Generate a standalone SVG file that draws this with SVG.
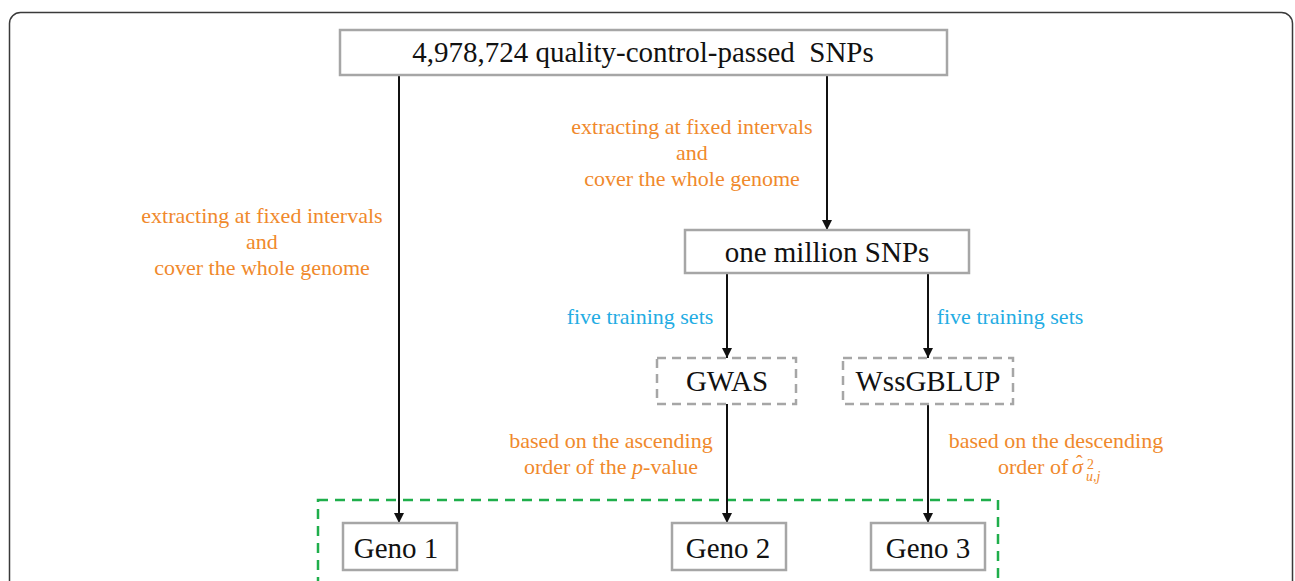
<svg xmlns="http://www.w3.org/2000/svg" width="1295" height="581" viewBox="0 0 1295 581">
  <style>
    .frame { fill: none; stroke: #3a3a3a; stroke-width: 1.5; }
    .box { fill: #ffffff; stroke: #a6a6a6; stroke-width: 2.5; }
    .dbox { fill: #ffffff; stroke: #a6a6a6; stroke-width: 2.5; stroke-dasharray: 9 6; }
    .group { fill: none; stroke: #1fae4b; stroke-width: 2.5; stroke-dasharray: 10 7; }
    .main { font-family: "Liberation Serif", "Times New Roman", serif; font-size: 29px; fill: #111; text-anchor: middle; }
    .orange { font-family: "Liberation Serif", "Times New Roman", serif; font-size: 22px; fill: #f0892c; text-anchor: middle; }
    .blue { font-family: "Liberation Serif", "Times New Roman", serif; font-size: 22px; fill: #23ace3; text-anchor: middle; }
    .edge { stroke: #111; stroke-width: 2; fill: none; marker-end: url(#arrow); }
  </style>
  <defs>
    <marker id="arrow" viewBox="0 0 10 10" refX="10" refY="5" markerWidth="5" markerHeight="5" orient="auto" markerUnits="strokeWidth">
      <path d="M0,0 L10,5 L0,10 z" fill="#111"/>
    </marker>
  </defs>

  <rect class="frame" x="9.5" y="12.5" width="1283" height="600" rx="11"/>

  <!-- grouping of the genotype sets -->
  <rect class="group" x="318" y="500" width="680" height="120"/>

  <g id="connectors">
    <line class="edge" x1="399" y1="75" x2="399" y2="523"/>
    <line class="edge" x1="827" y1="75" x2="827" y2="230"/>
    <line class="edge" x1="727" y1="273" x2="727" y2="358"/>
    <line class="edge" x1="928" y1="273" x2="928" y2="358"/>
    <line class="edge" x1="727" y1="404" x2="727" y2="523"/>
    <line class="edge" x1="928" y1="404" x2="928" y2="523"/>
  </g>

  <g id="labels">
    <text class="orange" x="692" y="134">extracting at fixed intervals</text>
    <text class="orange" x="692" y="160">and</text>
    <text class="orange" x="692" y="186">cover the whole genome</text>

    <text class="orange" x="262" y="223">extracting at fixed intervals</text>
    <text class="orange" x="262" y="249">and</text>
    <text class="orange" x="262" y="275">cover the whole genome</text>

    <text class="blue" x="640" y="324">five training sets</text>
    <text class="blue" x="1010" y="324">five training sets</text>

    <text class="orange" x="611" y="448">based on the ascending</text>
    <text class="orange" x="611" y="474">order of the <tspan font-style="italic">p</tspan>-value</text>

    <text class="orange" x="1056" y="448">based on the descending</text>
    <text class="orange" style="text-anchor:start" x="998" y="474">order of <tspan x="1072" font-style="italic">σ</tspan><tspan x="1076" y="470" font-size="20">ˆ</tspan><tspan x="1087" y="469" font-size="14">2</tspan><tspan x="1086" y="481" font-size="14" font-style="italic">u,j</tspan></text>
  </g>

  <g id="node-all-snps">
    <rect class="box" x="340" y="30" width="607" height="45"/>
    <text class="main" x="643" y="62" xml:space="preserve">4,978,724 quality-control-passed  SNPs</text>
  </g>
  <g id="node-million">
    <rect class="box" x="685" y="230" width="284" height="43"/>
    <text class="main" x="827" y="262">one million SNPs</text>
  </g>
  <g id="node-gwas">
    <rect class="dbox" x="657" y="358" width="139" height="46"/>
    <text class="main" x="727" y="391">GWAS</text>
  </g>
  <g id="node-wssgblup">
    <rect class="dbox" x="843" y="358" width="170" height="46"/>
    <text class="main" x="928" y="391">WssGBLUP</text>
  </g>
  <g id="node-geno1">
    <rect class="box" x="343" y="523" width="114" height="47"/>
    <text class="main" x="396" y="558">Geno 1</text>
  </g>
  <g id="node-geno2">
    <rect class="box" x="672" y="523" width="114" height="47"/>
    <text class="main" x="728" y="558">Geno 2</text>
  </g>
  <g id="node-geno3">
    <rect class="box" x="871" y="523" width="114" height="47"/>
    <text class="main" x="928" y="558">Geno 3</text>
  </g>
</svg>
